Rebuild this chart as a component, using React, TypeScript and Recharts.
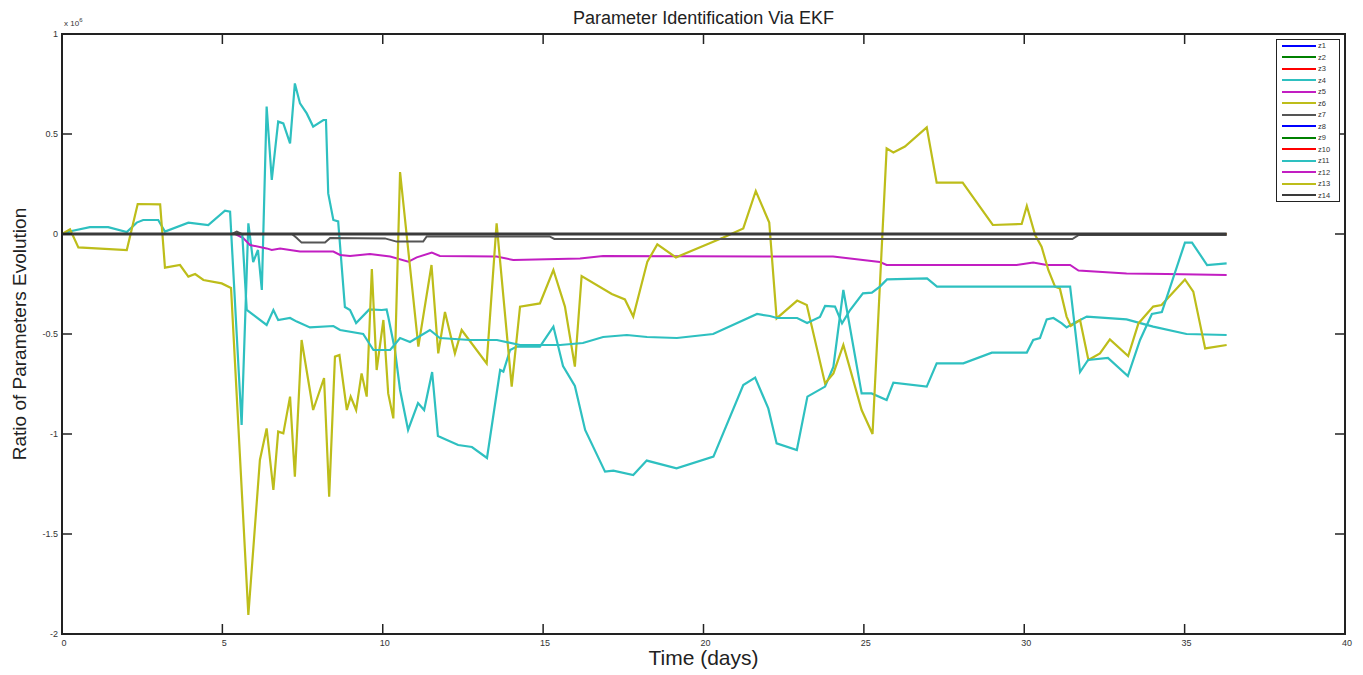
import React from 'react';
import { LineChart, Line, XAxis, YAxis, ReferenceArea, Legend } from 'recharts';

type Pt = [number, number];

const xTicks = [0, 5, 10, 15, 20, 25, 30, 35, 40];
const yTicks = [-2, -1.5, -1, -0.5, 0, 0.5, 1];

// [time (days), ratio x 1e6]
const zFlat: Pt[] = [[0, 0], [36.31, 0]];

const z4: Pt[] = [
  [0, 0], [0.3, 0.015], [0.87, 0.034], [1.44, 0.034], [2.02, 0.01], [2.33, 0.057], [2.53, 0.07],
  [3.0, 0.07], [3.21, 0.012], [3.94, 0.057], [4.56, 0.045], [5.08, 0.117], [5.24, 0.112],
  [5.6, -0.955], [5.81, 0.053], [5.96, -0.14], [6.11, -0.08], [6.23, -0.28], [6.38, 0.637],
  [6.54, 0.27], [6.74, 0.562], [6.9, 0.553], [7.11, 0.453], [7.26, 0.753], [7.42, 0.653],
  [7.63, 0.603], [7.83, 0.537], [8.15, 0.57], [8.23, 0.57], [8.3, 0.203], [8.46, 0.07],
  [8.61, 0.063], [8.82, -0.365], [8.98, -0.38], [9.17, -0.445], [9.58, -0.377], [9.97, -0.38],
  [10.12, -0.377], [10.17, -0.413], [10.38, -0.58], [10.54, -0.78], [10.79, -0.98],
  [11.1, -0.845], [11.29, -0.88], [11.54, -0.69], [11.72, -1.01], [12.0, -1.03], [12.35, -1.055],
  [12.78, -1.065], [13.25, -1.12], [13.66, -0.68], [13.76, -0.688], [13.97, -0.58],
  [14.18, -0.563], [14.9, -0.563], [15.32, -0.463], [15.62, -0.66], [15.99, -0.76],
  [16.31, -0.98], [16.93, -1.188], [17.19, -1.183], [17.81, -1.205], [18.23, -1.133],
  [19.16, -1.172], [20.31, -1.113], [21.24, -0.755], [21.61, -0.718], [22.02, -0.872],
  [22.28, -1.047], [22.91, -1.08], [23.24, -0.813], [23.79, -0.763], [24.05, -0.663],
  [24.36, -0.28], [24.93, -0.797], [25.24, -0.797], [25.71, -0.83], [25.92, -0.743],
  [26.96, -0.763], [27.27, -0.647], [28.1, -0.647], [28.99, -0.593], [30.08, -0.593],
  [30.28, -0.53], [30.49, -0.52], [30.7, -0.427], [30.91, -0.42], [31.17, -0.447],
  [31.32, -0.467], [31.53, -0.447], [31.95, -0.413], [33.19, -0.427], [34.02, -0.463],
  [35.06, -0.5], [36.31, -0.505],
];

const z11: Pt[] = [
  [0, 0], [5.62, 0], [5.76, -0.38], [6.38, -0.455], [6.59, -0.38], [6.74, -0.43], [7.11, -0.42],
  [7.32, -0.438], [7.73, -0.467], [8.46, -0.46], [8.67, -0.48], [9.39, -0.5], [9.71, -0.58],
  [10.23, -0.58], [10.54, -0.52], [10.85, -0.54], [11.47, -0.48], [11.78, -0.52], [12.72, -0.53],
  [13.56, -0.53], [14.28, -0.555], [15.53, -0.555], [16.24, -0.545], [16.87, -0.515],
  [17.61, -0.505], [18.24, -0.515], [19.17, -0.52], [20.3, -0.5], [21.67, -0.4], [22.07, -0.41],
  [22.29, -0.42], [22.92, -0.42], [23.23, -0.445], [23.63, -0.415], [23.79, -0.36],
  [24.1, -0.363], [24.32, -0.447], [24.57, -0.38], [24.97, -0.297], [25.25, -0.293],
  [25.5, -0.263], [25.72, -0.227], [26.97, -0.222], [27.28, -0.263], [31.43, -0.263],
  [31.74, -0.69], [31.99, -0.63], [32.61, -0.62], [33.23, -0.71], [33.61, -0.53], [33.98, -0.4],
  [34.29, -0.39], [35.01, -0.043], [35.23, -0.043], [35.7, -0.155], [36.31, -0.147],
];

const z6: Pt[] = [
  [0, 0], [0.25, 0.023], [0.51, -0.067], [2.02, -0.08], [2.36, 0.15], [3.06, 0.148], [3.21, -0.168],
  [3.68, -0.155], [3.94, -0.213], [4.15, -0.2], [4.41, -0.23], [4.98, -0.247], [5.27, -0.27],
  [5.81, -1.905], [6.17, -1.13], [6.38, -0.972], [6.59, -1.28], [6.74, -0.988], [6.9, -0.997],
  [7.11, -0.813], [7.26, -1.213], [7.47, -0.53], [7.83, -0.88], [8.17, -0.72], [8.33, -1.313],
  [8.51, -0.613], [8.65, -0.605], [8.88, -0.88], [9.0, -0.813], [9.17, -0.88], [9.34, -0.697],
  [9.5, -0.813], [9.66, -0.175], [9.81, -0.68], [10.02, -0.43], [10.17, -0.797], [10.33, -0.922],
  [10.54, 0.31], [11.11, -0.563], [11.52, -0.155], [11.73, -0.597], [11.94, -0.39],
  [12.25, -0.597], [12.46, -0.48], [13.24, -0.647], [13.55, 0.053], [14.02, -0.763],
  [14.28, -0.363], [14.9, -0.347], [15.32, -0.18], [15.68, -0.363], [15.99, -0.663], [16.2, -0.21],
  [17.14, -0.3], [17.55, -0.327], [17.81, -0.413], [18.25, -0.138], [18.56, -0.052],
  [19.14, -0.117], [20.62, -0.017], [21.24, 0.028], [21.63, 0.215], [22.05, 0.057],
  [22.28, -0.422], [22.92, -0.333], [23.22, -0.355], [23.79, -0.747], [24.05, -0.697],
  [24.36, -0.555], [24.93, -0.88], [25.27, -1.0], [25.71, 0.428], [25.92, 0.408], [26.28, 0.437],
  [26.96, 0.533], [27.27, 0.257], [28.08, 0.257], [29.02, 0.045], [29.92, 0.05], [30.08, 0.14],
  [30.34, -0.005], [30.54, -0.063], [30.75, -0.18], [30.96, -0.263], [31.11, -0.272],
  [31.32, -0.413], [31.45, -0.46], [31.74, -0.43], [32.0, -0.63], [32.36, -0.597], [32.67, -0.527],
  [33.24, -0.61], [33.56, -0.447], [34.02, -0.363], [34.28, -0.355], [35.01, -0.227],
  [35.27, -0.288], [35.64, -0.572], [36.31, -0.555],
];

const z5: Pt[] = [
  [0, 0], [5.4, 0], [5.65, -0.02], [5.86, -0.055], [6.38, -0.072], [6.54, -0.08], [6.8, -0.072],
  [7.11, -0.08], [7.42, -0.088], [8.46, -0.088], [8.67, -0.105], [8.98, -0.11], [9.6, -0.1],
  [10.23, -0.113], [10.8, -0.138], [11.06, -0.117], [11.53, -0.093], [11.78, -0.11],
  [13.55, -0.113], [14.07, -0.13], [16.15, -0.122], [16.87, -0.11], [24.04, -0.113],
  [25.5, -0.14], [25.71, -0.155], [29.76, -0.155], [30.28, -0.143], [30.7, -0.155],
  [31.43, -0.155], [31.69, -0.183], [33.19, -0.197], [34.44, -0.2], [36.31, -0.205],
];

const z7: Pt[] = [
  [0, 0], [5.3, 0], [5.45, 0.012], [5.6, 0], [7.17, 0], [7.32, -0.02], [7.47, -0.043],
  [8.2, -0.043], [8.36, -0.02], [10.07, -0.022], [10.43, -0.038], [11.26, -0.038],
  [11.37, -0.012], [15.2, -0.012], [15.35, -0.025], [31.5, -0.025], [31.7, -0.005], [36.31, -0.005],
];

const BLUE = '#0000ff';
const GREEN = '#008000';
const RED = '#ff0000';
const CYAN = '#2ec0c0';
const MAGENTA = '#c21ec2';
const YELLOW = '#bdbd1a';
const DARK = '#3a3a3a';

const SERIES = [
  { name: 'z1', color: BLUE, pts: zFlat, w: 2 },
  { name: 'z2', color: GREEN, pts: zFlat, w: 2 },
  { name: 'z3', color: RED, pts: zFlat, w: 2 },
  { name: 'z4', color: CYAN, pts: z4, w: 2.2 },
  { name: 'z5', color: MAGENTA, pts: z5, w: 2 },
  { name: 'z6', color: YELLOW, pts: z6, w: 2.2 },
  { name: 'z7', color: '#555', pts: z7, w: 2 },
  { name: 'z8', color: BLUE, pts: zFlat, w: 2 },
  { name: 'z9', color: GREEN, pts: zFlat, w: 2 },
  { name: 'z10', color: RED, pts: zFlat, w: 2 },
  { name: 'z11', color: CYAN, pts: z11, w: 2.2 },
  { name: 'z12', color: MAGENTA, pts: zFlat, w: 2 },
  { name: 'z13', color: YELLOW, pts: zFlat, w: 2 },
  { name: 'z14', color: DARK, pts: zFlat, w: 3 },
];

const PLOT = { left: 62, top: 34, right: 1345, bottom: 634 };
const FONT = '"Liberation Sans", Arial, Helvetica, sans-serif';

const toRows = (pts: Pt[]) => pts.map(([t, v]) => ({ t, v }));
const seriesIndex = (name: string) => SERIES.findIndex((s) => s.name === name);

// MATLAB style ticks: pointing inward, mirrored on the opposite side of the box
const XTick = (props: any) => {
  const { x, y, payload } = props;
  return (
    <g>
      <line x1={x} x2={x} y1={y} y2={y - 10} stroke="#222" strokeWidth={1.5} />
      <line x1={x} x2={x} y1={PLOT.top} y2={PLOT.top + 10} stroke="#222" strokeWidth={1.5} />
      <text x={x + 2} y={y + 12} textAnchor="middle" fontSize={9} fill="#333" fontFamily={FONT}>
        {payload.value}
      </text>
    </g>
  );
};

const YTick = (props: any) => {
  const { x, y, payload } = props;
  return (
    <g>
      <line x1={x} x2={x + 10} y1={y} y2={y} stroke="#222" strokeWidth={1.5} />
      <line x1={PLOT.right} x2={PLOT.right - 10} y1={y} y2={y} stroke="#222" strokeWidth={1.5} />
      <text x={x - 4} y={y + 3} textAnchor="end" fontSize={9} fill="#333" fontFamily={FONT}>
        {payload.value}
      </text>
    </g>
  );
};

const LegendBox = (props: any) => {
  const items = [...(props.payload || [])].sort(
    (a: any, b: any) => seriesIndex(a.value) - seriesIndex(b.value)
  );
  return (
    <div style={{ border: '1.5px solid #222', background: '#fff', width: 62, fontFamily: FONT }}>
      {items.map((it: any) => (
        <div key={it.value} style={{ display: 'flex', alignItems: 'center', height: 11.5, paddingLeft: 5 }}>
          <span style={{ display: 'inline-block', width: 34, borderTop: `2.5px solid ${it.color}` }} />
          <span style={{ fontSize: 7.5, marginLeft: 2, color: '#333', lineHeight: '11.5px' }}>{it.value}</span>
        </div>
      ))}
    </div>
  );
};

export default function App() {
  return (
    <div style={{ position: 'absolute', left: 0, top: 0, width: 1363, height: 675, background: '#fff', fontFamily: FONT }}>
      <LineChart width={1363} height={675} margin={{ top: PLOT.top, right: 1363 - PLOT.right, bottom: 675 - PLOT.bottom - 1, left: PLOT.left - 1 }}>
        <XAxis
          type="number"
          dataKey="t"
          domain={[0, 40]}
          ticks={xTicks}
          interval={0}
          allowDataOverflow
          height={1}
          tickSize={0}
          tickMargin={0}
          tickLine={false}
          axisLine={{ stroke: '#222', strokeWidth: 2 }}
          tick={XTick}
        />
        <YAxis
          type="number"
          domain={[-2, 1]}
          ticks={yTicks}
          interval={0}
          allowDataOverflow
          width={1}
          tickSize={0}
          tickMargin={0}
          tickLine={false}
          axisLine={{ stroke: '#222', strokeWidth: 2 }}
          tick={YTick}
        />
        <ReferenceArea x1={0} x2={40} y1={-2} y2={1} fill="none" fillOpacity={0} stroke="#222" strokeWidth={2} />
        {SERIES.map((s) => (
          <Line
            key={s.name}
            name={s.name}
            data={toRows(s.pts)}
            dataKey="v"
            type="linear"
            stroke={s.color}
            strokeWidth={s.w}
            dot={false}
            activeDot={false}
            isAnimationActive={false}
          />
        ))}
        <Legend
          layout="vertical"
          align="center"
          verticalAlign="middle"
          content={LegendBox}
          wrapperStyle={{ left: 1276, top: 39, width: 66 }}
        />
      </LineChart>

      <div style={{ position: 'absolute', left: 403.5, top: 7, width: 600, textAlign: 'center', fontSize: 18, lineHeight: '22px', color: '#222' }}>
        Parameter Identification Via EKF
      </div>
      <div style={{ position: 'absolute', left: 64, top: 17, fontSize: 8, color: '#333' }}>
        x 10<sup style={{ fontSize: 6 }}>6</sup>
      </div>
      <div style={{ position: 'absolute', left: 403.5, top: 646, width: 600, textAlign: 'center', fontSize: 21, lineHeight: '24px', color: '#222' }}>
        Time (days)
      </div>
      <div
        style={{
          position: 'absolute',
          left: 20 - 200,
          top: 334 - 12,
          width: 400,
          height: 24,
          lineHeight: '24px',
          textAlign: 'center',
          fontSize: 19,
          color: '#222',
          transform: 'rotate(-90deg)',
        }}
      >
        Ratio of Parameters Evolution
      </div>
    </div>
  );
}
